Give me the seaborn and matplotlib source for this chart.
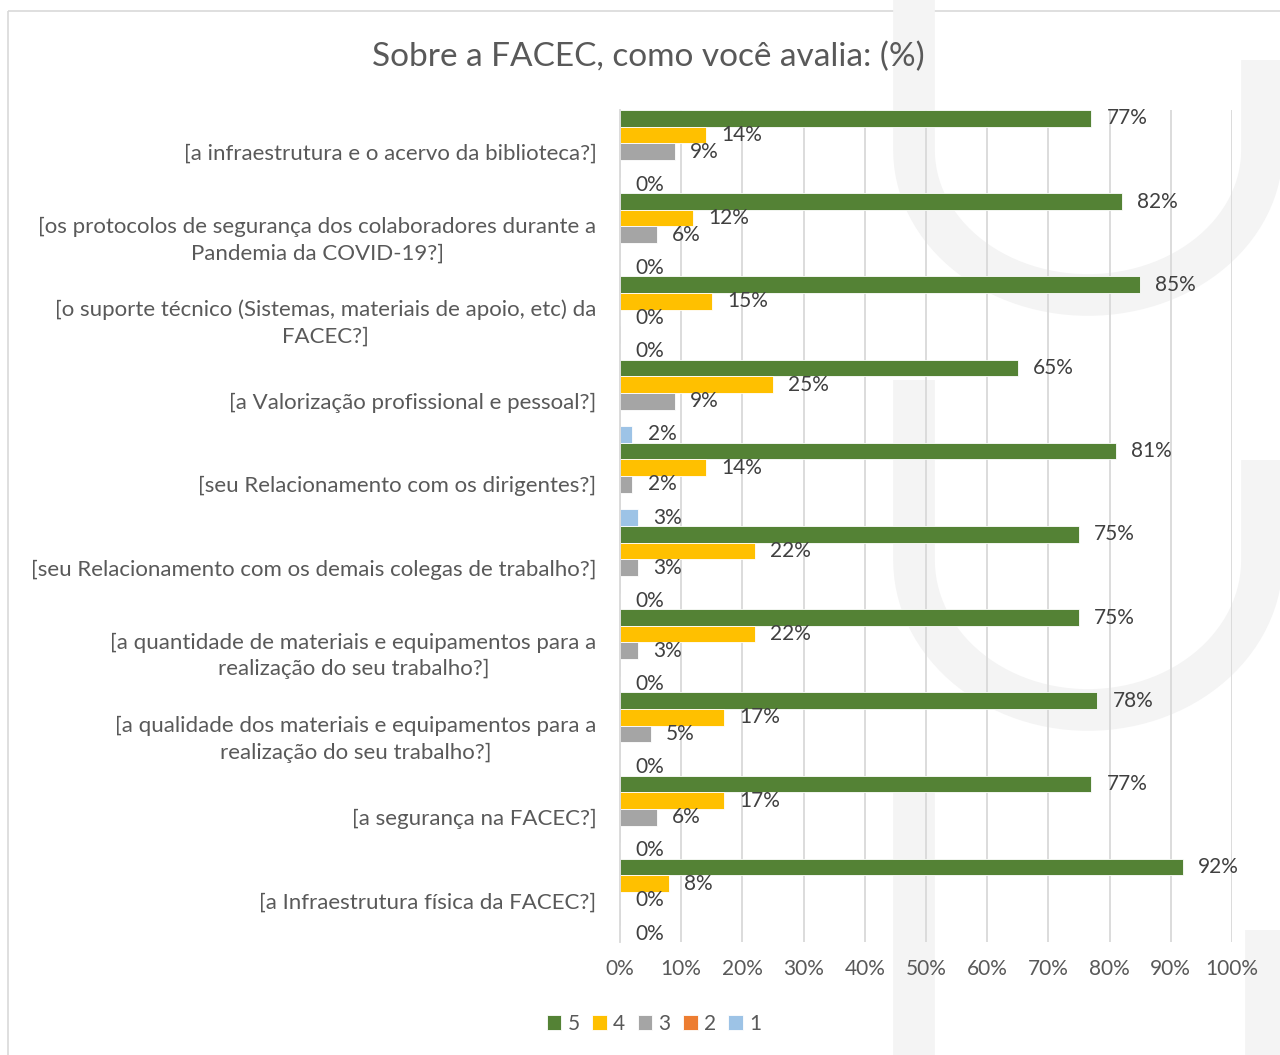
import numpy as np
import pandas as pd
import matplotlib
matplotlib.use("Agg")
import matplotlib.pyplot as plt
from matplotlib.patches import Rectangle
import seaborn as sns

# Categorias (na ordem do gráfico, de cima para baixo)
itens = [
    "[a infraestrutura e o acervo da biblioteca?]",
    "[os protocolos de segurança dos colaboradores durante a\nPandemia da COVID-19?]",
    "[o suporte técnico (Sistemas, materiais de apoio, etc) da\nFACEC?]",
    "[a Valorização profissional e pessoal?]",
    "[seu Relacionamento com os dirigentes?]",
    "[seu Relacionamento com os demais colegas de trabalho?]",
    "[a quantidade de materiais e equipamentos para a\nrealização do seu trabalho?]",
    "[a qualidade dos materiais e equipamentos para a\nrealização do seu trabalho?]",
    "[a segurança na FACEC?]",
    "[a Infraestrutura física da FACEC?]",
]

notas = ["5", "4", "3", "2", "1"]
nota_5 = [77, 82, 85, 65, 81, 75, 75, 78, 77, 92]
nota_4 = [14, 12, 15, 25, 14, 22, 22, 17, 17, 8]
nota_3 = [9, 6, 0, 9, 2, 3, 3, 5, 6, 0]
nota_2 = [np.nan, np.nan, np.nan, np.nan, np.nan, np.nan, np.nan, np.nan, np.nan, np.nan]
nota_1 = [0, 0, 0, 2, 3, 0, 0, 0, 0, 0]
cores = ["#548235", "#FFC000", "#A5A5A5", "#ED7D31", "#9DC3E6"]

ticks_x = [0, 10, 20, 30, 40, 50, 60, 70, 80, 90, 100]

# tabela longa para o seaborn
series = [nota_5, nota_4, nota_3, nota_2, nota_1]
linhas = []
for nota, valores in zip(notas, series):
    for item, v in zip(itens, valores):
        linhas.append({"item": item, "nota": nota, "pct": v})
df = pd.DataFrame(linhas)

sns.set_theme(style="white")
plt.rcParams["font.family"] = ["Lato", "DejaVu Sans"]

W, H = 1280, 1055
fig = plt.figure(figsize=(W / 100, H / 100), dpi=100)
fig.patch.set_facecolor("white")

# fundo: marca d'agua clara e borda do grafico
bg = fig.add_axes([0, 0, 1, 1], zorder=-1)
bg.set_xlim(0, W)
bg.set_ylim(H, 0)
bg.axis("off")
wm = "#f4f4f4"
lw_wm = 30
t = np.linspace(np.pi, 0, 60)
for y_top, y_mid, y_bot, y_right in [(-20, 150, 295, 60), (380, 560, 710, 460)]:
    xs = np.concatenate([[914, 914], 1088 + 174 * np.cos(t), [1262, 1262]])
    ys = np.concatenate([[y_top, y_mid], y_mid + (y_bot - y_mid) * np.sin(t), [y_mid, y_right]])
    bg.plot(xs, ys, color=wm, lw=lw_wm, solid_capstyle="butt", solid_joinstyle="round")
bg.plot([914, 914], [780, H + 20], color=wm, lw=lw_wm, solid_capstyle="butt")
bg.plot([1266, 1266], [930, H + 20], color=wm, lw=lw_wm, solid_capstyle="butt")
bg.add_patch(Rectangle((8, 11), W, H, fill=False, edgecolor="#d9d9d9", lw=1.2))

ax = fig.add_axes([620 / W, 1 - 942 / H, (1232 - 620) / W, (942 - 110) / H])
ax.patch.set_alpha(0)

sns.barplot(
    data=df, x="pct", y="item", hue="nota", hue_order=notas,
    palette=cores, saturation=1, orient="h", width=1.0, gap=0, errorbar=None,
    edgecolor="white", linewidth=0.6, ax=ax,
)

for cont in ax.containers:
    labels = ["" if np.isnan(v) else f"{v:.0f}%" for v in cont.datavalues]
    ax.bar_label(cont, labels=labels, padding=11, fontsize=15, color="#404040")

ax.set_xlim(0, 100)
ax.set_xticks(ticks_x)
ax.set_xticklabels([f"{v}%" for v in ticks_x])
ax.set_xlabel("")
ax.set_ylabel("")
ax.grid(axis="x", color="#d9d9d9", lw=1.3)
ax.set_axisbelow(True)
for s in ["top", "right", "bottom"]:
    ax.spines[s].set_visible(False)
ax.spines["left"].set_color("#d9d9d9")
ax.spines["left"].set_linewidth(1.3)
ax.tick_params(axis="x", length=0, labelsize=15, colors="#595959", pad=12)
ax.tick_params(axis="y", length=0, labelsize=16, colors="#595959", pad=17)
for lab in ax.get_yticklabels():
    lab.set_multialignment("center")
    lab.set_linespacing(1.4)

sns.move_legend(
    ax, "center", bbox_to_anchor=(654 / W, 1 - 1024 / H),
    bbox_transform=fig.transFigure, ncol=5, frameon=False, title=None,
    fontsize=15, handlelength=0.7, handleheight=0.7, handletextpad=0.3,
    columnspacing=0.6,
)
for txt in ax.get_legend().get_texts():
    txt.set_color("#595959")

fig.text(648 / W, 1 - 57 / H, "Sobre a FACEC, como você avalia: (%)",
         ha="center", va="center", fontsize=24, color="#595959")

fig.savefig("out.png", dpi=100)
